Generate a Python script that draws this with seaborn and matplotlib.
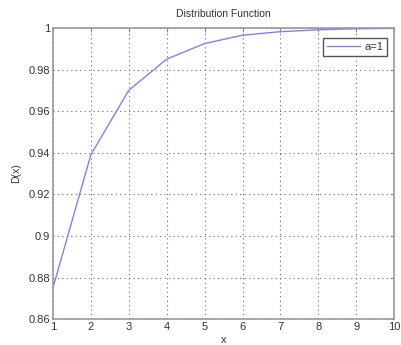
import matplotlib
matplotlib.use("Agg")
import matplotlib.pyplot as plt
import seaborn as sns
import pandas as pd

x_vals = [1, 2, 3, 4, 5, 6, 7, 8, 9, 10]
d_vals = [0.875, 0.939, 0.970, 0.985, 0.9925, 0.9965, 0.9982, 0.9991, 0.9996, 0.9998]
series_label = "a=1"
y_ticks = [0.86, 0.88, 0.9, 0.92, 0.94, 0.96, 0.98, 1]
y_tick_labels = ["0.86", "0.88", "0.9", "0.92", "0.94", "0.96", "0.98", "1"]

sns.set_style("white")
plt.rcParams['font.family'] = ['Liberation Sans', 'DejaVu Sans']

df = pd.DataFrame({"x": x_vals, "D": d_vals})

fig = plt.figure(figsize=(4.01, 3.45), dpi=100)
ax = fig.add_axes([0.132, 0.075, 0.851, 0.844])
sns.lineplot(data=df, x="x", y="D", ax=ax, color="#7f7fff", linewidth=1.0, label=series_label)

ax.set_xlim(1, 10)
ax.set_ylim(0.86, 1.0)
ax.set_xticks(x_vals)
ax.set_xticklabels([str(v) for v in x_vals])
ax.set_yticks(y_ticks)
ax.set_yticklabels(y_tick_labels)
ax.tick_params(axis="both", labelsize=8, length=3, direction="in", color="#888888", pad=2,
               labelcolor="#333333", top=True, right=True)
ax.grid(True, linestyle=(0, (1, 3)), color="#666666", linewidth=0.8)
for s in ax.spines.values():
    s.set_color("#999999")
    s.set_linewidth(1.2)

ax.set_title("Distribution Function", fontsize=7.5, pad=8, color="#333333")
ax.set_xlabel("x", fontsize=8, labelpad=2, color="#333333")
ax.set_ylabel("D(x)", fontsize=7.5, labelpad=5, color="#333333")

leg = ax.legend(loc="upper right", fontsize=8, frameon=True, fancybox=False,
                edgecolor="#555555", framealpha=1, handlelength=2.9, handletextpad=0.4,
                borderpad=0.35, bbox_to_anchor=(0.995, 0.985))
leg.get_frame().set_linewidth(1.0)
for t in leg.get_texts():
    t.set_color("#333333")

fig.savefig("out.png", dpi=100)
